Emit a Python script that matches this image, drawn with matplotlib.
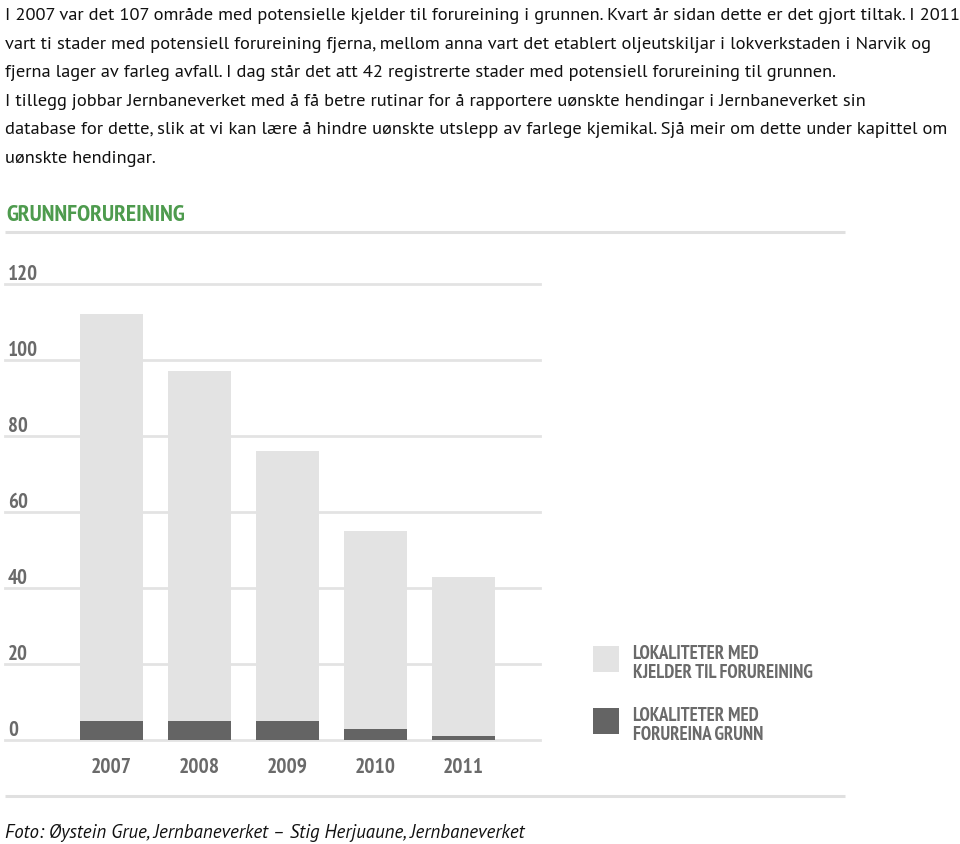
import matplotlib
matplotlib.use('Agg')
import matplotlib.pyplot as plt
import matplotlib.transforms as mtransforms
from matplotlib.lines import Line2D
from matplotlib.patches import Rectangle
import numpy as np

# ---------------- data ----------------
years = ['2007', '2008', '2009', '2010', '2011']
kjelder = [107, 92, 71, 52, 42]      # lokaliteter med kjelder til forureining
forureina = [5, 5, 5, 3, 1]          # lokaliteter med forureina grunn
yticks = [0, 20, 40, 60, 80, 100, 120]
series_labels = ['LOKALITETER MED\nKJELDER TIL FORUREINING',
                 'LOKALITETER MED\nFORUREINA GRUNN']
title = 'GRUNNFORUREINING'
paragraph = [
    'I 2007 var det 107 område med potensielle kjelder til forureining i grunnen. Kvart år sidan dette er det gjort tiltak. I 2011',
    'vart ti stader med potensiell forureining fjerna, mellom anna vart det etablert oljeutskiljar i lokverkstaden i Narvik og',
    'fjerna lager av farleg avfall. I dag står det att 42 registrerte stader med potensiell forureining til grunnen.',
    'I tillegg jobbar Jernbaneverket med å få betre rutinar for å rapportere uønskte hendingar i Jernbaneverket sin',
    'database for dette, slik at vi kan lære å hindre uønskte utslepp av farlege kjemikal. Sjå meir om dette under kapittel om',
    'uønskte hendingar.',
]
caption = 'Foto: Øystein Grue, Jernbaneverket – Stig Herjuaune, Jernbaneverket'

# ---------------- style ----------------
W, H = 960, 845
LIGHT = '#e3e3e3'
DARK = '#646464'
GRID = '#e3e3e3'
GREY_TXT = '#6a6a6a'
GREEN = '#4e9b4e'
COND = ['PT Sans Narrow', 'Barlow Condensed', 'DejaVu Sans']
BODY = ['PT Sans', 'Lato', 'DejaVu Sans']

fig = plt.figure(figsize=(W / 100, H / 100), dpi=100)


def fx(x):
    return x / W


def fy(y):
    return 1 - y / H


# paragraph
for i, line in enumerate(paragraph):
    fig.text(fx(5), fy(20 + i * 28.6), line, family=BODY, fontsize=13.3,
             color='#111111', va='baseline', ha='left')

# title
fig.text(fx(6), fy(221), title, family=COND, fontweight='bold', fontsize=17,
         color=GREEN, va='baseline', ha='left')

# separator lines
for yy in (233, 797):
    fig.add_artist(Line2D([fx(5), fx(845)], [fy(yy), fy(yy)], color='#e0e0e0',
                          lw=2.2, solid_capstyle='butt'))

# axes
ax_left, ax_right, ax_bottom, ax_top = 5, 540, 741, 285
ax = fig.add_axes([fx(ax_left), fy(ax_bottom), (ax_right - ax_left) / W,
                   (ax_bottom - ax_top) / H])
pitch = 88.0
x0 = 111.5
x = np.arange(len(years))
ax.set_xlim((ax_left - x0) / pitch, (ax_right - x0) / pitch)
ax.set_ylim(0, 120)
for s in ax.spines.values():
    s.set_visible(False)

for v in yticks:
    ax.axhline(v, color=GRID, lw=2.0, zorder=0, clip_on=False)

width = 63 / pitch
ax.bar(x, forureina, width, color=DARK, zorder=2)
ax.bar(x, kjelder, width, bottom=forureina, color=LIGHT, zorder=2)

ax.set_yticks([])
ax.set_xticks(x)
ax.set_xticklabels(years, family=COND, fontweight='bold', fontsize=15.5,
                   color=GREY_TXT)
ax.tick_params(axis='x', length=0, pad=12)

blend = mtransforms.blended_transform_factory(ax.transAxes, ax.transData)
lab_tr = mtransforms.offset_copy(blend, fig=fig, y=5, units='dots')
for v in yticks:
    ax.text(3 / (ax_right - ax_left), v, str(v), transform=lab_tr,
            family=COND, fontweight='bold', fontsize=15, color=GREY_TXT,
            va='baseline', ha='left', clip_on=False)

# legend (manual)
leg_colors = [LIGHT, DARK]
for i, (lab, col) in enumerate(zip(series_labels, leg_colors)):
    top = 647 + i * 62
    fig.add_artist(Rectangle((fx(593), fy(top + 26)), 26 / W, 26 / H,
                             facecolor=col, edgecolor='none'))
    l1, l2 = lab.split('\n')
    fig.text(fx(633), fy(top + 12), l1, family=COND, fontweight='bold',
             fontsize=13.5, color=GREY_TXT, va='baseline', ha='left')
    fig.text(fx(633), fy(top + 31), l2, family=COND, fontweight='bold',
             fontsize=13.5, color=GREY_TXT, va='baseline', ha='left')

# caption
fig.text(fx(5), fy(838), caption, family=BODY, style='italic', fontsize=13.6,
         color='#111111', va='baseline', ha='left')

fig.savefig('out.png', dpi=100, facecolor='white')
